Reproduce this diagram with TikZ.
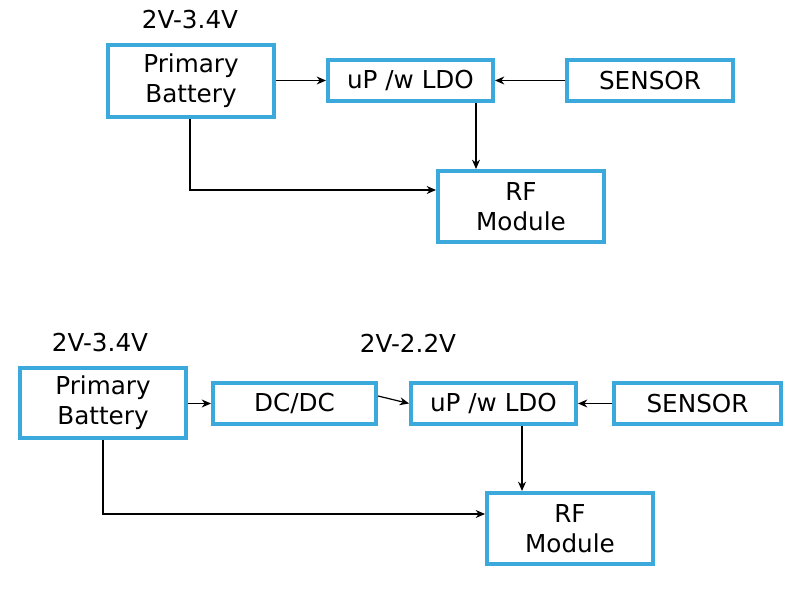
\documentclass[tikz,border=0pt]{standalone}
\usepackage{fontspec}
\setmainfont{DejaVu Sans}
\usetikzlibrary{arrows.meta}
\begin{document}
\begin{tikzpicture}[x=0.75pt,y=-0.75pt,
 box/.style={draw=cyan!70!blue!80,line width=3pt,fill=white,inner sep=0pt,align=center,font=\fontsize{18.5}{22.5}\selectfont},
 lbl/.style={font=\fontsize{18.5}{22}\selectfont},
 ar/.style={-{Stealth[length=7pt,width=6pt]},line width=0.9pt}]
\useasboundingbox (0,0) rectangle (803,598);
\definecolor{bb}{HTML}{3BA9DC}
\tikzset{box/.append style={draw=bb}}
% top
\node[lbl] (l1) at (190,20) {2V-3.4V};
\node[box,minimum width=166*0.75pt,minimum height=72*0.75pt] (pb1) at (191,81) {Primary\\Battery};
\node[box,minimum width=165*0.75pt,minimum height=41*0.75pt] (up1) at (410.5,80.5) {uP /w LDO};
\node[box,minimum width=166*0.75pt,minimum height=41*0.75pt] (s1) at (650,80.5) {SENSOR};
\node[box,minimum width=166*0.75pt,minimum height=71*0.75pt] (rf1) at (521,206.5) {RF\\Module};
\coordinate (c1) at (190,190);
\draw[ar] (pb1.east|-up1) -- (up1.west);
\draw[ar] (s1.west) -- (up1.east);
\draw[ar] (up1.south-|476,0) -- (rf1.north-|476,0);
\draw[ar] (pb1.south-|c1) -- (c1) -- (rf1.west|-c1);
% bottom
\node[lbl] (l2) at (100,343) {2V-3.4V};
\node[lbl] (l3) at (408,343) {2V-2.2V};
\node[box,minimum width=166*0.75pt,minimum height=70*0.75pt] (pb2) at (103,403) {Primary\\Battery};
\node[box,minimum width=163*0.75pt,minimum height=41*0.75pt] (dc) at (294.5,403.5) {DC/DC};
\node[box,minimum width=165*0.75pt,minimum height=41*0.75pt] (up2) at (493.5,403.5) {uP /w LDO};
\node[box,minimum width=167*0.75pt,minimum height=41*0.75pt] (s2) at (697.5,403.5) {SENSOR};
\node[box,minimum width=166*0.75pt,minimum height=71*0.75pt] (rf2) at (570,528.5) {RF\\Module};
\coordinate (c2) at (103,514);
\draw[ar] (pb2.east|-dc) -- (dc.west);
\draw[ar] (dc.east|-0,396) -- (up2.west);
\draw[ar] (s2.west) -- (up2.east);
\draw[ar] (up2.south-|522,0) -- (rf2.north-|522,0);
\draw[ar] (pb2.south-|c2) -- (c2) -- (rf2.west|-c2);
\end{tikzpicture}
\end{document}
